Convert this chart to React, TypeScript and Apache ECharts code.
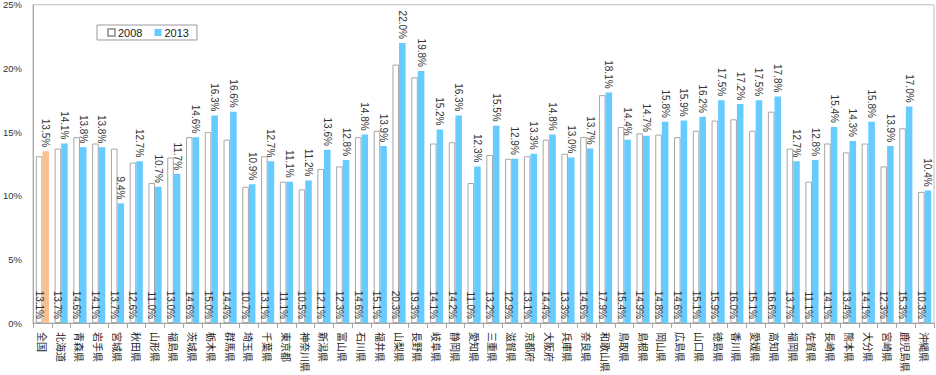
import React, { useEffect, useRef } from "react";
import * as echarts from "echarts";

const categories = [
  "全国", "北海道", "青森県", "岩手県", "宮城県", "秋田県", "山形県", "福島県", "茨城県", "栃木県",
  "群馬県", "埼玉県", "千葉県", "東京都", "神奈川県", "新潟県", "富山県", "石川県", "福井県", "山梨県",
  "長野県", "岐阜県", "静岡県", "愛知県", "三重県", "滋賀県", "京都府", "大阪府", "兵庫県", "奈良県",
  "和歌山県", "鳥取県", "島根県", "岡山県", "広島県", "山口県", "徳島県", "香川県", "愛媛県", "高知県",
  "福岡県", "佐賀県", "長崎県", "熊本県", "大分県", "宮崎県", "鹿児島県", "沖縄県",
];

const values2008 = [
  13.1, 13.7, 14.6, 14.1, 13.7, 12.6, 11.0, 13.0, 14.6, 15.0,
  14.4, 10.7, 13.1, 11.1, 10.5, 12.1, 12.3, 14.6, 15.1, 20.3,
  19.3, 14.1, 14.2, 11.0, 13.2, 12.9, 13.1, 14.4, 13.3, 14.6,
  17.9, 15.4, 14.9, 14.8, 14.6, 15.1, 15.9, 16.0, 15.1, 16.6,
  13.7, 11.1, 14.1, 13.4, 14.1, 12.3, 15.3, 10.3,
];

const values2013 = [
  13.5, 14.1, 13.8, 13.8, 9.4, 12.7, 10.7, 11.7, 14.6, 16.3,
  16.6, 10.9, 12.7, 11.1, 11.2, 13.6, 12.8, 14.8, 13.9, 22.0,
  19.8, 15.2, 16.3, 12.3, 15.5, 12.9, 13.3, 14.8, 13.0, 13.7,
  18.1, 14.4, 14.7, 15.8, 15.9, 16.2, 17.5, 17.2, 17.5, 17.8,
  12.7, 12.8, 15.4, 14.3, 15.8, 13.9, 17.0, 10.4,
];

const seriesNames = ["2008", "2013"];
const yTicks = { min: 0, max: 25, interval: 5 };

const BLUE = "#66CCFF";
const ORANGE = "#FAC090";
const FONT = "'Liberation Sans', 'Noto Sans CJK JP', sans-serif";
const CJK = "'Noto Sans CJK JP', sans-serif";

export default function App() {
  const ref = useRef<HTMLDivElement>(null);
  useEffect(() => {
    if (!ref.current) return;
    const chart = echarts.init(ref.current, undefined, { renderer: "svg" });
    chart.setOption({
      animation: false,
      backgroundColor: "#fff",
      textStyle: { fontFamily: FONT },
      legend: {
        data: seriesNames,
        left: 97,
        top: 25,
        orient: "horizontal",
        backgroundColor: "#fff",
        borderColor: "#9A9A9A",
        borderWidth: 1,
        padding: [2, 8, 2, 10],
        itemWidth: 7,
        itemHeight: 7,
        itemGap: 12,
        icon: "rect",
        textStyle: { fontSize: 11, color: "#222", fontFamily: FONT, padding: [0, 0, 0, -2] },
      },
      grid: {
        left: 30,
        right: 2,
        top: 3,
        bottom: 52,
        show: true,
        borderColor: "#BFBFBF",
        borderWidth: 1,
        backgroundColor: "transparent",
      },
      xAxis: {
        type: "category",
        data: categories,
        axisLine: { lineStyle: { color: "#A6A6A6" } },
        axisTick: { show: true, length: 5, lineStyle: { color: "#A6A6A6" } },
        axisLabel: {
          interval: 0,
          rotate: -90,
          margin: 9,
          fontSize: 10,
          color: "#222",
          fontFamily: CJK,
          hideOverlap: false,
        },
      },
      yAxis: {
        type: "value",
        min: yTicks.min,
        max: yTicks.max,
        interval: yTicks.interval,
        splitLine: { show: false },
        axisLine: { show: true, lineStyle: { color: "#A6A6A6" } },
        axisTick: { show: false },
        axisLabel: {
          formatter: "{value}%",
          fontSize: 9.5,
          color: "#333",
          margin: 11,
          fontFamily: FONT,
        },
      },
      series: [
        {
          name: seriesNames[0],
          type: "bar",
          data: values2008,
          barGap: "0%",
          barCategoryGap: "30%",
          itemStyle: { color: "#FFFFFF", borderColor: "#A6A6A6", borderWidth: 1 },
          label: {
            show: true,
            position: "insideBottom",
            rotate: -90,
            align: "right",
            verticalAlign: "middle",
            distance: 4,
            fontSize: 10,
            color: "#333",
            fontFamily: FONT,
            formatter: (p: any) => p.value.toFixed(1) + "%",
          },
        },
        {
          name: seriesNames[1],
          type: "bar",
          data: values2013.map((v, i) =>
            i === 0 ? { value: v, itemStyle: { color: ORANGE } } : v
          ),
          barGap: "0%",
          barCategoryGap: "30%",
          itemStyle: { color: BLUE },
          label: {
            show: true,
            position: "top",
            rotate: -90,
            align: "right",
            verticalAlign: "middle",
            distance: 4,
            fontSize: 10,
            color: "#333",
            fontFamily: FONT,
            formatter: (p: any) => p.value.toFixed(1) + "%",
          },
        },
      ],
    });
    return () => chart.dispose();
  }, []);
  return (
    <div
      ref={ref}
      style={{ position: "fixed", left: 0, top: 0, width: 936, height: 375 }}
    />
  );
}
